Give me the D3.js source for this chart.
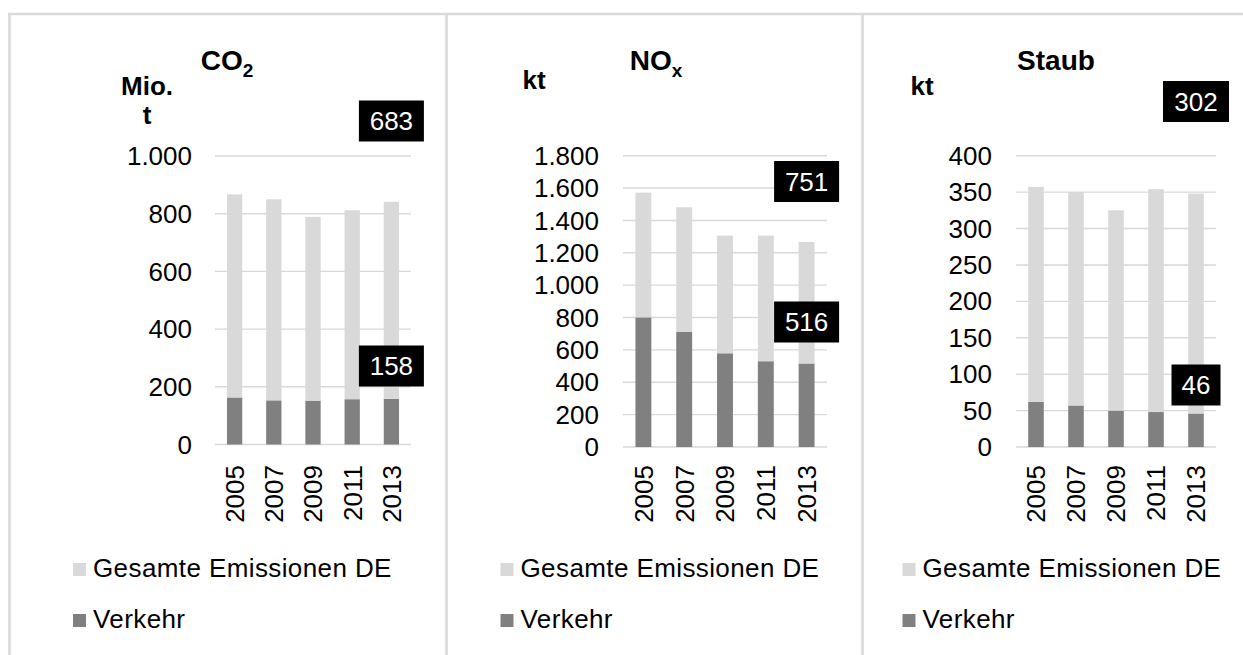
<!DOCTYPE html>
<html>
<head>
<meta charset="utf-8">
<script src="https://cdn.jsdelivr.net/npm/d3@7"></script>
<style>
  body { margin: 0; background: #fff; }
  svg { display: block; font-family: "Liberation Sans", Arial, sans-serif; }
</style>
</head>
<body>
<div id="chart"></div>
<script>
'use strict';

// data
var years = ['2005', '2007', '2009', '2011', '2013'];
var seriesNames = ['Gesamte Emissionen DE', 'Verkehr'];

var co2Verkehr = [163, 153, 152, 157, 158];
var co2Gesamt  = [704, 697, 637, 655, 683];
var co2Ticks   = [0, 200, 400, 600, 800, 1000];

var noxVerkehr = [801, 711, 579, 530, 516];
var noxGesamt  = [771, 770, 727, 776, 751];
var noxTicks   = [0, 200, 400, 600, 800, 1000, 1200, 1400, 1600, 1800];

var staubVerkehr = [62, 57, 50, 48, 46];
var staubGesamt  = [295, 293, 275, 306, 302];
var staubTicks   = [0, 50, 100, 150, 200, 250, 300, 350, 400];

var colors = {gesamt: '#d9d9d9', verkehr: '#808080', grid: '#d9d9d9', border: '#d9d9d9'};

var de = d3.formatLocale({decimal: ',', thousands: '.', grouping: [3], currency: ['', ' €']});
var fmt = de.format(',d');

var W = 1243, H = 655;
var svg = d3.select('#chart').append('svg').attr('width', W).attr('height', H);
svg.append('rect').attr('width', W).attr('height', H).attr('fill', '#fff');

// panel frames
svg.append('line').attr('x1', 8).attr('x2', W).attr('y1', 14).attr('y2', 14)
    .attr('stroke', colors.border).attr('stroke-width', 2.5);
[9.5, 446.5, 862.5].forEach(function (x) {
    svg.append('line').attr('x1', x).attr('x2', x).attr('y1', 13).attr('y2', H)
        .attr('stroke', colors.border).attr('stroke-width', 2.5);
});

var panels = [
    {title: 'CO', sub: '2', titleX: 227, unit: ['Mio.', 't'], unitX: 147, unitY: 95,
     verkehr: co2Verkehr, gesamt: co2Gesamt, ticks: co2Ticks, max: 1000,
     x0: 215, x1: 411, y0: 444.5, y1: 156, labelX: 192,
     boxTop: 121, boxBottom: 366, boxW: [65, 65], legendX: 73},
    {title: 'NO', sub: 'x', titleX: 656, unit: ['kt'], unitX: 534, unitY: 89,
     verkehr: noxVerkehr, gesamt: noxGesamt, ticks: noxTicks, max: 1800,
     x0: 623, x1: 827, y0: 447, y1: 155.7, labelX: 599,
     boxTop: 181.5, boxBottom: 322, boxW: [65, 65], legendX: 500.5},
    {title: 'Staub', sub: null, titleX: 1056, unit: ['kt'], unitX: 922, unitY: 95,
     verkehr: staubVerkehr, gesamt: staubGesamt, ticks: staubTicks, max: 400,
     x0: 1016, x1: 1216, y0: 447, y1: 155.7, labelX: 992,
     boxTop: 101.5, boxBottom: 385, boxW: [66, 49], legendX: 902.5}
];

function drawPanel(p) {
    var g = svg.append('g');
    var x = d3.scaleBand().domain(years).range([p.x0, p.x1])
        .paddingInner(0.61).paddingOuter(0.305);
    var y = d3.scaleLinear().domain([0, p.max]).range([p.y0, p.y1]);

    // gridlines
    g.selectAll('line.grid').data(p.ticks).enter().append('line')
        .attr('class', 'grid')
        .attr('x1', p.x0).attr('x2', p.x1)
        .attr('y1', function (d) { return y(d); })
        .attr('y2', function (d) { return y(d); })
        .attr('stroke', colors.grid).attr('stroke-width', 1.4);

    // tick labels
    g.selectAll('text.tick').data(p.ticks).enter().append('text')
        .attr('class', 'tick')
        .attr('x', p.labelX).attr('y', function (d) { return y(d); })
        .attr('dy', '0.35em').attr('text-anchor', 'end')
        .attr('font-size', 26).attr('fill', '#000')
        .text(function (d) { return fmt(d); });

    // stacked bars
    var rows = years.map(function (yr, i) {
        return {year: yr, v: p.verkehr[i], gs: p.gesamt[i]};
    });
    g.selectAll('rect.verkehr').data(rows).enter().append('rect')
        .attr('x', function (d) { return x(d.year); })
        .attr('width', x.bandwidth())
        .attr('y', function (d) { return y(d.v); })
        .attr('height', function (d) { return y(0) - y(d.v); })
        .attr('fill', colors.verkehr);
    g.selectAll('rect.gesamt').data(rows).enter().append('rect')
        .attr('x', function (d) { return x(d.year); })
        .attr('width', x.bandwidth())
        .attr('y', function (d) { return y(d.v + d.gs); })
        .attr('height', function (d) { return y(d.v) - y(d.v + d.gs); })
        .attr('fill', colors.gesamt);

    // year labels, rotated
    g.selectAll('text.year').data(years).enter().append('text')
        .attr('transform', function (d) {
            return 'translate(' + (x(d) + x.bandwidth() / 2) + ',465) rotate(-90)';
        })
        .attr('dy', '0.36em').attr('text-anchor', 'end')
        .attr('font-size', 26).attr('fill', '#000')
        .text(function (d) { return d; });

    // callout boxes for last year
    var last = years.length - 1;
    var cx = x(years[last]) + x.bandwidth() / 2;
    var boxes = [
        {cy: p.boxTop, w: p.boxW[0], val: p.gesamt[last]},
        {cy: p.boxBottom, w: p.boxW[1], val: p.verkehr[last]}
    ];
    boxes.forEach(function (b) {
        g.append('rect').attr('x', cx - b.w / 2).attr('y', b.cy - 20.5)
            .attr('width', b.w).attr('height', 41).attr('fill', '#000');
        g.append('text').attr('x', cx).attr('y', b.cy).attr('dy', '0.35em')
            .attr('text-anchor', 'middle').attr('font-size', 26).attr('fill', '#fff')
            .text(fmt(b.val));
    });

    // title
    var t = g.append('text').attr('x', p.titleX).attr('y', 70)
        .attr('text-anchor', 'middle').attr('font-size', 28).attr('font-weight', 'bold');
    t.append('tspan').text(p.title);
    if (p.sub) {
        t.append('tspan').attr('font-size', 19).attr('dy', 7).text(p.sub);
    }

    // unit label
    p.unit.forEach(function (u, i) {
        g.append('text').attr('x', p.unitX).attr('y', p.unitY + i * 29)
            .attr('text-anchor', 'middle').attr('font-size', 26).attr('font-weight', 'bold')
            .text(u);
    });

    // legend
    var legendColors = [colors.gesamt, colors.verkehr];
    seriesNames.forEach(function (name, i) {
        var by = 577 + i * 51;
        g.append('rect').attr('x', p.legendX).attr('y', by - 14)
            .attr('width', 13).attr('height', 13).attr('fill', legendColors[i]);
        g.append('text').attr('x', p.legendX + 20).attr('y', by)
            .attr('font-size', 26).attr('letter-spacing', 0.4).attr('fill', '#000').text(name);
    });
}

panels.forEach(drawPanel);
</script>
</body>
</html>
